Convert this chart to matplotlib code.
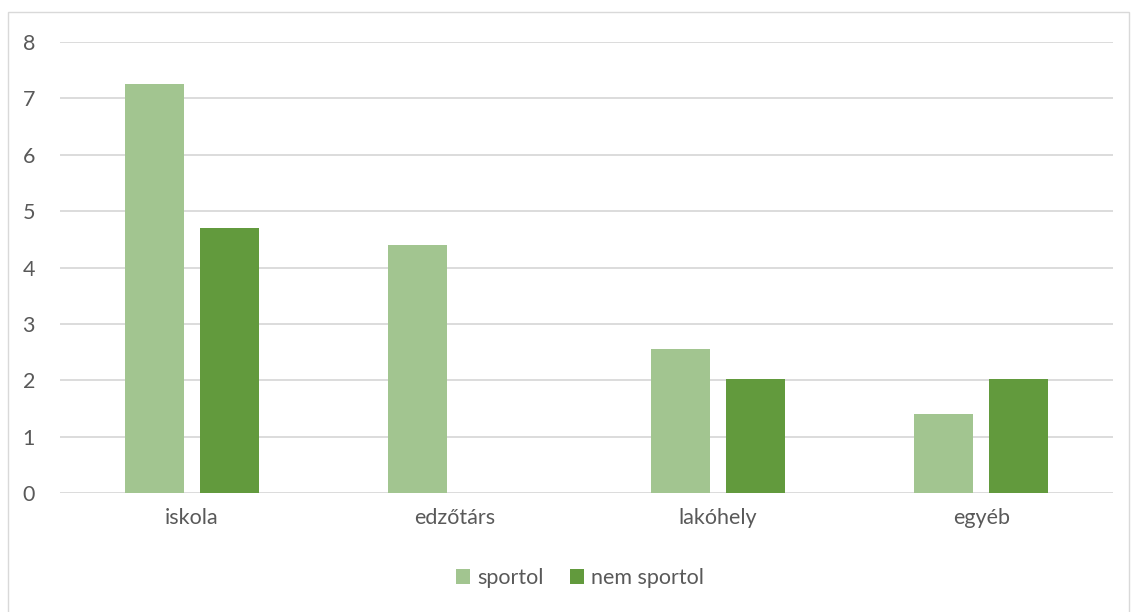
import numpy as np
import matplotlib.pyplot as plt
from matplotlib.patches import Rectangle

categories = ["iskola", "edzőtárs", "lakóhely", "egyéb"]
sportol = [7.25, 4.4, 2.56, 1.41]
nem_sportol = [4.7, 0.0, 2.03, 2.03]
series_names = ["sportol", "nem sportol"]

plt.rcParams["font.family"] = ["Lato", "DejaVu Sans"]
text_color = "#595959"
light_green = "#A2C590"
dark_green = "#629A3D"

fig = plt.figure(figsize=(11.32, 6.12), dpi=100)
ax = fig.add_axes([60 / 1132, 1 - 493 / 612, (1113 - 60) / 1132, (493 - 42) / 612])

x = np.arange(len(categories))
w = 0.224
off = 0.1425
ax.bar(x - off, sportol, w, color=light_green, label=series_names[0], zorder=3)
ax.bar(x + off, nem_sportol, w, color=dark_green, label=series_names[1], zorder=3)

ax.set_xlim(-0.5, len(categories) - 0.5)
ax.set_ylim(0, 8)
ax.set_yticks(range(0, 9))
ax.set_xticks(x)
ax.set_xticklabels(categories)
ax.grid(axis="y", color="#D9D9D9", linewidth=1.3, zorder=0)
for s in ax.spines.values():
    s.set_visible(False)
ax.tick_params(length=0, labelsize=15.5, colors=text_color)
ax.tick_params(axis="y", pad=18)
ax.tick_params(axis="x", pad=11)

leg = fig.legend(loc="center", bbox_to_anchor=(580 / 1132, 1 - 578 / 612), ncol=2,
                 frameon=False, fontsize=15.5, handlelength=0.65, handleheight=0.65,
                 handletextpad=0.35, columnspacing=1.2)
for t in leg.get_texts():
    t.set_color(text_color)

fig.patches.append(Rectangle((8 / 1132, -0.01), (1129 - 8) / 1132, 1 - 12 / 612 + 0.01,
                             transform=fig.transFigure, fill=False,
                             edgecolor="#D9D9D9", linewidth=1))

fig.savefig("out.png", dpi=100)
plt.close(fig)
